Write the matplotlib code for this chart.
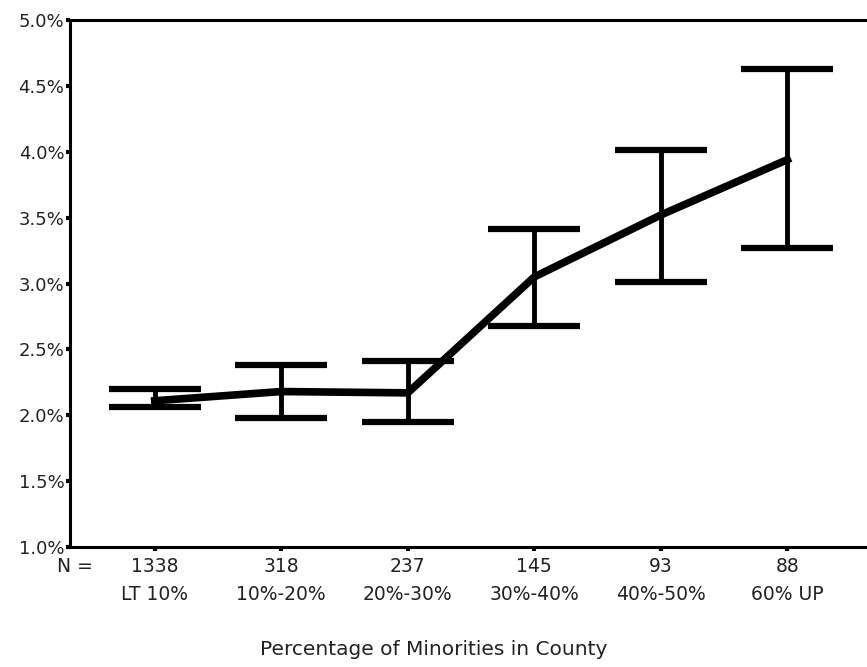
import matplotlib
matplotlib.use("Agg")
import matplotlib.pyplot as plt
import numpy as np

# data (percent)
groups = ['LT 10%', '10%-20%', '20%-30%', '30%-40%', '40%-50%', '60% UP']
n_counts = ['1338', '318', '237', '145', '93', '88']
means = [2.11, 2.18, 2.17, 3.05, 3.52, 3.94]
lower = [2.06, 1.98, 1.95, 2.68, 3.01, 3.27]
upper = [2.20, 2.38, 2.41, 3.41, 4.01, 4.63]

x = np.arange(1, len(groups) + 1)
yerr = [np.array(means) - np.array(lower), np.array(upper) - np.array(means)]

fig = plt.figure(figsize=(8.67, 6.67), dpi=100)
ax = fig.add_axes([0.0807, 0.1799, 0.9193, 0.7901])

ax.errorbar(x, means, yerr=yerr, color='black', linewidth=5.5,
            elinewidth=3.5, capsize=33, capthick=4.5)

ax.set_xlim(0.33, 6.63)
ax.set_ylim(1.0, 5.0)
yt = np.arange(1.0, 5.01, 0.5)
ax.set_yticks(yt)
ax.set_yticklabels(['%.1f%%' % v for v in yt], fontsize=13, color='#222222')
ax.set_xticks(x)
ax.set_xticklabels([n + '\n' + g for n, g in zip(n_counts, groups)],
                   fontsize=13.5, color='#222222', linespacing=1.6)

ax.spines['right'].set_visible(False)
for s in ['left', 'top', 'bottom']:
    ax.spines[s].set_linewidth(2.2)
ax.tick_params(axis='y', length=3, width=3, pad=1)
ax.tick_params(axis='x', length=3, width=3, pad=4)

fig.text(0.066, 0.151, 'N =', fontsize=13.5, color='#222222', ha='left', va='center')
fig.text(0.5, 0.026, 'Percentage of Minorities in County', fontsize=14.5,
         color='#222222', ha='center', va='center')

fig.savefig('out.png', dpi=100)
